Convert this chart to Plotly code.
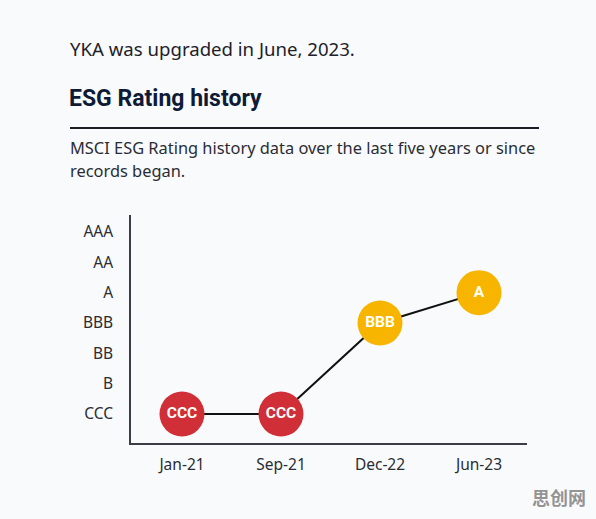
import plotly.graph_objects as go

# Data
dates = ["Jan-21", "Sep-21", "Dec-22", "Jun-23"]
ratings = ["CCC", "CCC", "BBB", "A"]
scale = ["CCC", "B", "BB", "BBB", "A", "AA", "AAA"]

W, H = 596, 519
L, R, T, B = 131, 527, 215, 443  # plot area pixels

def px(x):
    return (x - L) / (R - L)

def py(y):
    return (B - y) / (B - T)

xi = list(range(len(dates)))
yi = [scale.index(r) for r in ratings]
red, yellow = "#d12f37", "#f7b500"
colors = [red if v <= 2 else yellow for v in yi]

fig = go.Figure()
fig.add_trace(go.Scatter(
    x=xi, y=yi, mode="lines+markers+text",
    line=dict(color="#111111", width=2),
    marker=dict(size=45, color=colors, line=dict(width=0)),
    text=ratings, textposition="middle center",
    textfont=dict(family="Roboto", size=15.5, color="white", weight="bold"),
    hoverinfo="skip", showlegend=False, cliponaxis=False,
))

bg = "#f9fafc"
fig.update_layout(
    width=W, height=H,
    margin=dict(l=L, r=W - R, t=T, b=H - B),
    paper_bgcolor=bg, plot_bgcolor=bg,
    font=dict(family="Noto Sans", color="#2a2d34"),
)
fig.update_xaxes(
    range=[-0.515, 3.485], tickvals=xi, ticktext=dates,
    showgrid=False, zeroline=False, showline=True, linecolor="#3a3d44", linewidth=1.5,
    ticks="", ticklabelstandoff=7, tickfont=dict(size=15.5, color="#2a2d34"),
)
fig.update_yaxes(
    range=[-0.956, 6.56], tickvals=list(range(len(scale))), ticktext=scale,
    showgrid=False, zeroline=False, showline=True, linecolor="#3a3d44", linewidth=1.5,
    ticks="", ticklabelstandoff=13, tickfont=dict(size=15.5, color="#2a2d34"),
)

anns = [
    dict(text="YKA was upgraded in June, 2023.", x=px(68), y=py(48),
         font=dict(family="Noto Sans", size=18.6, color="#1e2129")),
    dict(text="<b>ESG Rating history</b>", x=px(67), y=py(98),
         font=dict(family="Roboto", size=23, color="#0f1a36")),
    dict(text="MSCI ESG Rating history data over the last five years or since", x=px(68), y=py(147),
         font=dict(family="Noto Sans", size=16.4, color="#2a2d34")),
    dict(text="records began.", x=px(68), y=py(170),
         font=dict(family="Noto Sans", size=16.4, color="#2a2d34")),
    dict(text="<b>思创网</b>", x=px(530), y=py(497),
         font=dict(family="Noto Sans CJK SC", size=18, color="rgba(120,120,120,0.8)")),
]
for a in anns:
    fig.add_annotation(xref="paper", yref="paper", xanchor="left", yanchor="middle",
                       showarrow=False, **a)

fig.add_shape(type="line", xref="paper", yref="paper",
              x0=px(70), x1=px(539), y0=py(128), y1=py(128),
              line=dict(color="#1a1d24", width=2))

fig.write_html("out.html")
